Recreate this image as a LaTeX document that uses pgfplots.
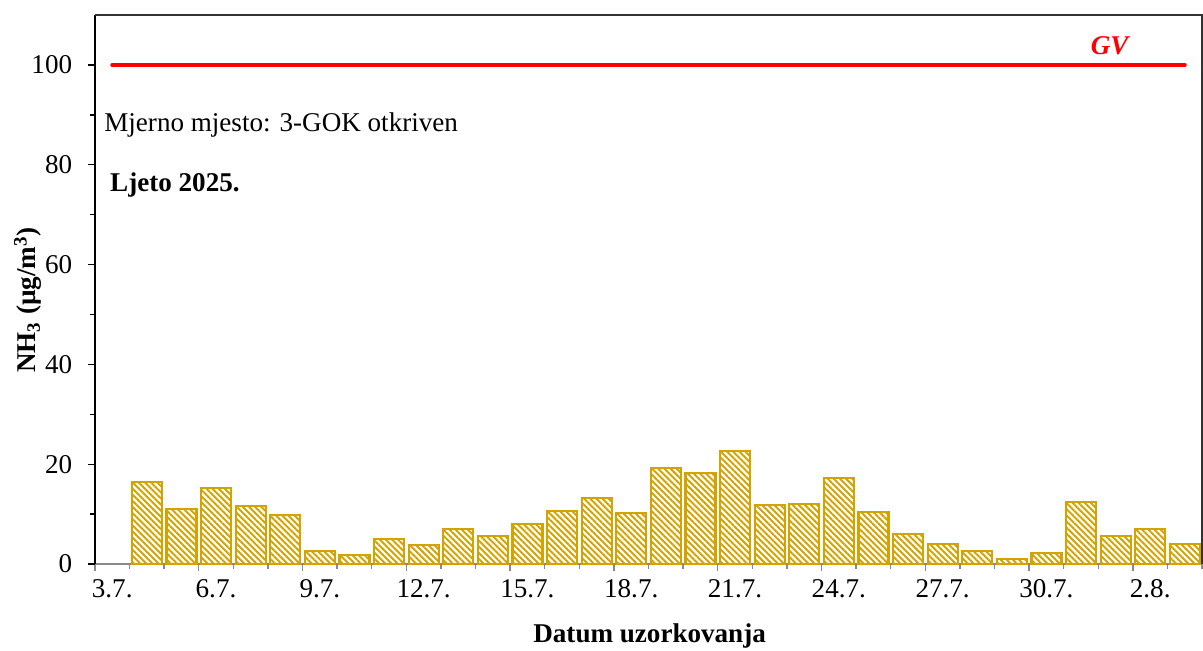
\documentclass[border=0pt]{standalone}
\usepackage{pgfplots}
\pgfplotsset{compat=1.18}
\usepackage{fontspec}
\setmainfont{Liberation Serif}
\usetikzlibrary{patterns.meta}

\definecolor{barGold}{RGB}{212,163,0}
\definecolor{axGray}{RGB}{137,137,137}

\begin{document}
\begin{tikzpicture}[font=\fontsize{12.5}{15}\selectfont]
\useasboundingbox (-43.8pt,-39.7pt) rectangle (511.3pt,260.3pt);
\begin{axis}[
    scale only axis,
    width=510.9pt, height=253.4pt,
    xmin=-0.5, xmax=31.5,
    ymin=0, ymax=110,
    axis lines*=left,
    x axis line style={axGray, line width=0.7pt},
    y axis line style={black, line width=0.7pt},
    tick align=outside,
    % x: boundaries as ticks, labels in the slot centres
    xtick={-0.5,2.5,...,32.5},
    xticklabels={},
    minor x tick num=2,
    x tick style={axGray, line width=0.7pt},
    extra x ticks={0,3,...,30},
    extra x tick labels={3.7.,6.7.,9.7.,12.7.,15.7.,18.7.,21.7.,24.7.,27.7.,30.7.,2.8.},
    extra x tick style={major tick length=0pt},
    x tick label style={yshift=-3.4pt},
    y tick label style={xshift=-3.7pt},
    ytick={0,20,...,100},
    minor y tick num=1,
    y tick style={black, line width=0.7pt},
    major tick length=3.3pt,
    minor tick length=2.1pt,
    /pgf/number format/assume math mode=true,
    xlabel={\textbf{Datum uzorkovanja}},
    ylabel={\textbf{NH\textsubscript{3} (µg/m\textsuperscript{3})}},
    xlabel style={at={(axis description cs:0.501,0)}, anchor=center, yshift=-33.2pt},
    ylabel style={at={(axis description cs:-0.0605,0.481)}, anchor=center, rotate=0},
    clip=false,
]

\addplot[ybar, bar width=0.867, draw=barGold, line width=1pt,
    pattern={Lines[angle=-45,distance=2pt,line width=0.9pt]}, pattern color=barGold]
coordinates {
    (1,16.4) (2,11.0) (3,15.3) (4,11.6) (5,9.8) (6,2.7) (7,1.8) (8,5.0)
    (9,3.8) (10,7.0) (11,5.6) (12,8.0) (13,10.6) (14,13.2) (15,10.2) (16,19.2)
    (17,18.3) (18,22.6) (19,11.9) (20,12.1) (21,17.3) (22,10.4) (23,6.1) (24,4.0)
    (25,2.7) (26,1.1) (27,2.3) (28,12.4) (29,5.6) (30,7.0) (31,4.0)
};

% limit value
\addplot[red, line width=1.8pt, line cap=round] coordinates {(0,100) (31,100)};

\draw[black!80, line width=0.6pt] (rel axis cs:0,1) -- (rel axis cs:1,1) -- (rel axis cs:1,0);

\node[text=red, font=\fontsize{12.5}{15}\selectfont\bfseries\itshape] at (axis cs:28.83,103.8) {GV};
\node[anchor=west, inner sep=0pt] at (axis cs:-0.24,88.0) {Mjerno mjesto: 3-GOK otkriven};
\node[anchor=west, inner sep=0pt, font=\fontsize{12.5}{15}\selectfont\bfseries] at (axis cs:-0.07,75.9) {Ljeto 2025.};

\end{axis}
\end{tikzpicture}
\end{document}
